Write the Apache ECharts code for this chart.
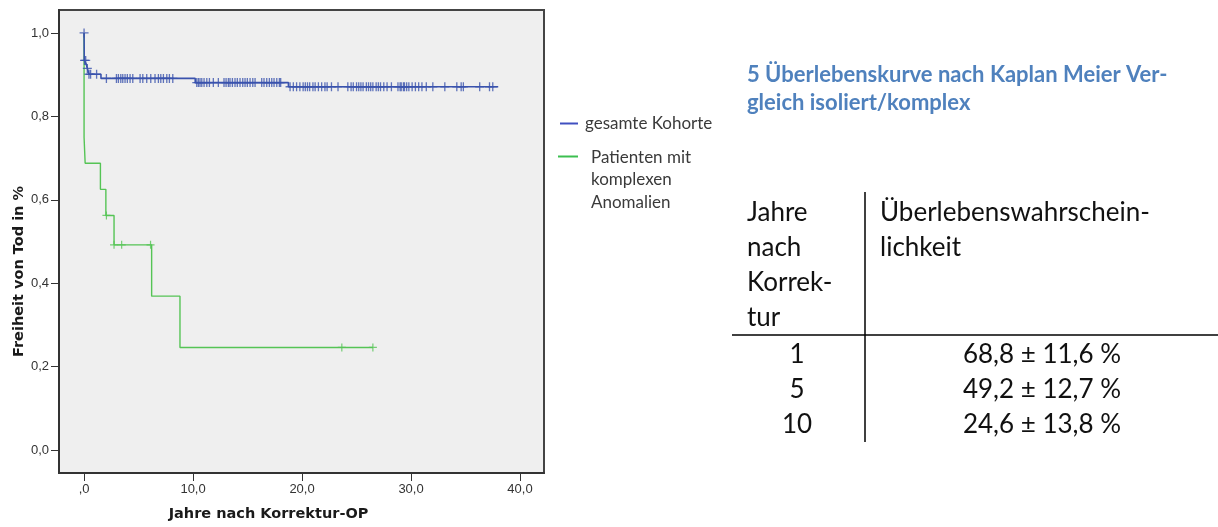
<!DOCTYPE html>
<html>
<head>
<meta charset="utf-8">
<script src="https://cdn.jsdelivr.net/npm/echarts@6/dist/echarts.min.js"></script>
<style>
html,body{margin:0;padding:0;background:#fff;}
#main{width:1218px;height:527px;}
</style>
</head>
<body>
<div id="main"></div>
<script>
// ---- data ----
const seriesNames = ['gesamte Kohorte', 'Patienten mit\nkomplexen\nAnomalien'];
// Kaplan-Meier steps [time, survival] (value after event)
const blueSteps = [[0,1.0],[0.02,0.934],[0.2,0.925],[0.3,0.915],[0.45,0.901],[1.55,0.891],[10.2,0.881],[18.75,0.871],[38.0,0.871]];
const blueCensored = [0,0.04,0.15,0.3,0.45,0.6,1.15,
  2.05,2.97,3.15,3.37,3.55,3.76,3.97,4.22,4.47,5.14,5.39,5.75,6.12,6.51,6.82,7.04,7.28,7.59,7.83,8.14,
  10.34,10.49,10.64,10.8,11.01,11.26,11.5,11.86,12.32,12.84,13.03,13.24,13.39,13.61,13.85,14.06,14.31,14.56,14.77,14.98,15.23,15.48,15.69,16.3,16.51,16.76,17.0,17.22,17.43,17.68,17.92,18.04,
  18.9,19.2,19.5,19.8,20.1,20.3,20.5,20.7,21.0,21.2,21.5,21.8,22.1,22.3,22.7,23.3,24.2,24.5,24.7,25.0,25.2,25.4,25.6,25.9,26.1,26.3,26.5,26.8,27.0,27.2,27.5,27.8,28.2,28.8,29.0,29.1,29.3,29.4,29.6,29.8,30.1,30.4,30.7,31.0,31.4,32.0,33.1,34.2,34.6,34.8,36.3,37.2,37.5];
const greenSteps = [[0,1.0],[0.0,0.75],[0.1,0.6875],[1.5,0.625],[2.0,0.5625],[2.75,0.492],[6.2,0.369],[8.8,0.246],[26.5,0.246]];
const greenCensored = [2.05,2.75,3.45,6.1,23.65,26.5];
const xTicks = [0,10,20,30,40];
const yTicks = [0,0.2,0.4,0.6,0.8,1.0];
const titleLines = ['5 Überlebenskurve nach Kaplan Meier Ver-', 'gleich isoliert/komplex'];
const tableHeadLeft = ['Jahre','nach','Korrek-','tur'];
const tableHeadRight = ['Überlebenswahrschein-','lichkeit'];
const tableYears = ['1','5','10'];
const tableValues = ['68,8 ± 11,6 %','49,2 ± 12,7 %','24,6 ± 13,8 %'];

// ---- helpers ----
function levelAt(steps, t){
  let v = steps[0][1];
  for (const s of steps){ if (s[0] <= t) v = s[1]; }
  return v;
}
const blueMarks = blueCensored.map(t => [t, levelAt(blueSteps, t)]);
const greenMarks = greenCensored.map(t => [t, levelAt(greenSteps, t)]);
const fmtComma = v => v.toFixed(1).replace('.', ',');

const BLUE = '#3a52ad';
const GREEN = '#55c455';
const PLUS = 'path://M5,0L5,10M0,5L10,5';

const chart = echarts.init(document.getElementById('main'), null, {renderer:'canvas'});

const graphics = [];
// legend
graphics.push({type:'line', shape:{x1:560,y1:123.5,x2:578,y2:123.5}, style:{stroke:'#4050c0', lineWidth:2}});
graphics.push({type:'text', x:585, y:123.5, style:{text:seriesNames[0], font:'17px Lato', fill:'#3a3a3a', verticalAlign:'middle'}});
graphics.push({type:'line', shape:{x1:558,y1:156.5,x2:578,y2:156.5}, style:{stroke:'#3cbf50', lineWidth:2}});
graphics.push({type:'text', left:591, top:146, style:{text:seriesNames[1], font:'17px Lato', fill:'#3a3a3a', lineHeight:22.5}});
// title
graphics.push({type:'text', left:747, top:61, style:{text:titleLines.join('\n'), font:'bold 22px Lato', fill:'#4f81bd', lineHeight:28}});
// table
graphics.push({type:'line', shape:{x1:865,y1:192,x2:865,y2:442}, style:{stroke:'#000', lineWidth:1.5}});
graphics.push({type:'line', shape:{x1:732,y1:335,x2:1218,y2:335}, style:{stroke:'#000', lineWidth:1.5}});
graphics.push({type:'text', left:747, top:195, style:{text:tableHeadLeft.join('\n'), font:'26px Lato', fill:'#111', lineHeight:35}});
graphics.push({type:'text', left:880, top:195, style:{text:tableHeadRight.join('\n'), font:'26px Lato', fill:'#111', lineHeight:35}});
tableYears.forEach((y,i)=>{
  graphics.push({type:'text', x:797, y:355+i*35, style:{text:y, font:'26px Lato', fill:'#111', align:'center', verticalAlign:'middle'}});
  graphics.push({type:'text', x:1042, y:355+i*35, style:{text:tableValues[i], font:'26px Lato', fill:'#111', align:'center', verticalAlign:'middle'}});
});

const option = {
  backgroundColor:'#ffffff',
  animation:false,
  grid:{left:59, right:674, top:10, bottom:47, show:true, backgroundColor:'#efefef', borderColor:'#444', borderWidth:2},
  xAxis:{
    type:'value', min:-2.3, max:42.2,
    name:'Jahre nach Korrektur-OP', nameLocation:'middle', nameGap:34,
    nameTextStyle:{fontFamily:'DejaVu Sans', fontWeight:'bold', fontSize:14.5, color:'#1a1a1a', padding:[0,66,0,0]},
    axisLine:{show:true, onZero:false, lineStyle:{color:'#333', width:2}},
    axisTick:{show:true, customValues:xTicks, length:8, lineStyle:{color:'#333'}},
    axisLabel:{customValues:xTicks, formatter:v => v===0 ? ',0' : fmtComma(v), fontFamily:'Liberation Sans', fontSize:13, color:'#333', margin:10},
    splitLine:{show:false}
  },
  yAxis:{
    type:'value', min:-0.055, max:1.055,
    name:'Freiheit von Tod in %', nameLocation:'middle', nameGap:32, nameRotate:90,
    nameTextStyle:{fontFamily:'DejaVu Sans', fontWeight:'bold', fontSize:14.5, color:'#1a1a1a', padding:[0,60,0,0]},
    axisLine:{show:true, onZero:false, lineStyle:{color:'#333', width:2}},
    axisTick:{show:true, customValues:yTicks, length:8, lineStyle:{color:'#333'}},
    axisLabel:{customValues:yTicks, formatter:v => fmtComma(v), fontFamily:'Liberation Sans', fontSize:13, color:'#333', margin:10},
    splitLine:{show:false}
  },
  series:[
    {type:'line', name:'gesamte Kohorte', data:blueSteps, step:'end', showSymbol:false, lineStyle:{color:BLUE, width:1.6}, z:3},
    {type:'line', name:'komplex', data:greenSteps, step:'end', showSymbol:false, lineStyle:{color:GREEN, width:1.4}, z:2},
    {type:'scatter', data:blueMarks, symbol:PLUS, symbolSize:9, itemStyle:{color:'rgba(0,0,0,0)', borderColor:BLUE, borderWidth:1.3}, z:4},
    {type:'scatter', data:greenMarks, symbol:PLUS, symbolSize:8, itemStyle:{color:'rgba(0,0,0,0)', borderColor:GREEN, borderWidth:1.2}, z:4}
  ],
  graphic:graphics
};
chart.setOption(option);
</script>
</body>
</html>
